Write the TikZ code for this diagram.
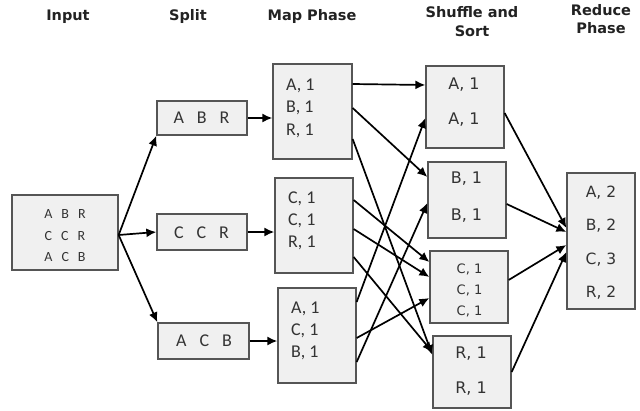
\documentclass[tikz,border=0pt]{standalone}
\usepackage{fontspec}
\newfontfamily\calfont{Carlito}
\newfontfamily\verfont{DejaVu Sans}
\usetikzlibrary{arrows.meta}
\definecolor{boxfill}{HTML}{F0F0F0}
\definecolor{boxline}{HTML}{555555}
\definecolor{txt}{HTML}{333333}
\definecolor{ttl}{HTML}{222222}
\begin{document}
\begin{tikzpicture}[x=1pt,y=-1pt,
  box/.style n args={2}{draw=boxline, fill=boxfill, line width=1.3pt, inner sep=0pt, minimum width=#1, minimum height=#2},
  arr/.style={-{Latex[length=10pt,width=9pt]}, line width=1.7pt, black},
  title/.style={font=\verfont\bfseries\fontsize{14.5}{18}\selectfont, text=ttl, anchor=base, inner sep=0pt},
  caltxt/.style={font=\calfont\fontsize{#1}{#1}\selectfont, text=txt, inner sep=0pt},
  vertxt/.style={font=\verfont\fontsize{#1}{#1}\selectfont, text=txt, inner sep=0pt, align=center}
]
\useasboundingbox (0,0) rectangle (640,410);
\fill[white] (0,0) rectangle (640,410);

% titles
\node[title] (tin) at (68,20) {Input};
\node[title] (tsp) at (188,20) {Split};
\node[title] (tmp) at (312,20) {Map Phase};
\node[title] (tsh1) at (472,17.5) {Shuffle and};
\node[title] (tsh2) at (472,36) {Sort};
\node[title] (tre1) at (601,15) {Reduce};
\node[title] (tre2) at (601,33) {Phase};

% boxes
\node[box={106}{75}] (in) at (65,232.5) {};
\node[box={90}{34}] (s1) at (202,118) {};
\node[box={90}{36}] (s2) at (202,232) {};
\node[box={91}{36}] (s3) at (203.5,341) {};
\node[box={79}{95}] (m1) at (312.5,111.5) {};
\node[box={78}{95}] (m2) at (314,225.5) {};
\node[box={78}{95}] (m3) at (317,335.5) {};
\node[box={78}{82}] (sa) at (465,107) {};
\node[box={78}{76}] (sb) at (467,200) {};
\node[box={78}{72}] (sc) at (469,287) {};
\node[box={78}{72}] (sr) at (472,372) {};
\node[box={68}{136}] (red) at (601,241) {};

% texts
\node[caltxt=14, align=center, font=\calfont\fontsize{14}{21.5}\selectfont] (intx) at (65,236) {A\hspace{9pt}B\hspace{9pt}R\\C\hspace{9pt}C\hspace{9pt}R\\A\hspace{9pt}C\hspace{9pt}B};
\node[caltxt=18] (s1t) at (201.5,118) {A\hspace{13pt}B\hspace{13pt}R};
\node[caltxt=18] (s2t) at (201.5,233) {C\hspace{13pt}C\hspace{13pt}R};
\node[caltxt=18] (s3t) at (204,341) {A\hspace{13pt}C\hspace{13pt}B};
\node[caltxt=18, align=left, anchor=west, font=\calfont\fontsize{18}{22.5}\selectfont] (m1t) at (286,108) {A, 1\\B, 1\\R, 1};
\node[caltxt=18, align=left, anchor=west, font=\calfont\fontsize{18}{22}\selectfont] (m2t) at (288,221) {C, 1\\C, 1\\R, 1};
\node[caltxt=18, align=left, anchor=west, font=\calfont\fontsize{18}{22}\selectfont] (m3t) at (291,331) {A, 1\\C, 1\\B, 1};
\node[vertxt=16, font=\verfont\fontsize{16}{35}\selectfont] (sat) at (464,102) {A, 1\\A, 1};
\node[vertxt=16, font=\verfont\fontsize{16}{37}\selectfont] (sbt) at (466.5,197.5) {B, 1\\B, 1};
\node[vertxt=13, font=\verfont\fontsize{13}{21}\selectfont] (sct) at (469.5,290) {C, 1\\C, 1\\C, 1};
\node[vertxt=16, font=\verfont\fontsize{16}{35}\selectfont] (srt) at (471,371.5) {R, 1\\R, 1};
\node[vertxt=15.5, font=\verfont\fontsize{15.5}{33.3}\selectfont] (redt) at (601,242.5) {A, 2\\B, 2\\C, 3\\R, 2};

% input -> split
\draw[arr] (in.east |- 0,235) -- (s1.south west);
\draw[arr] (in.east |- 0,235) -- (s2.west);
\draw[arr] (in.east |- 0,235) -- (s3.north west);
% split -> map
\draw[arr] (s1.east) -- (m1.west |- s1.east);
\draw[arr] (s2.east) -- (m2.west |- s2.east);
\draw[arr] (s3.east) -- (m3.west |- s3.east);
% map -> shuffle
\draw[arr] (m1.east |- 0,84) -- (sa.west |- 0,85);
\draw[arr] (m1.east |- 0,108) -- (sb.west |- 0,177);
\draw[arr] (m1.east |- 0,139) -- (sr.west |- 0,355);
\draw[arr] (m2.east |- 0,200) -- (sc.west |- 0,262);
\draw[arr] (m2.east |- 0,229) -- (sc.west |- 0,277);
\draw[arr] (m2.east |- 0,257) -- (sr.west |- 0,352);
\draw[arr] (m3.east |- 0,302) -- (sa.west |- 0,118);
\draw[arr] (m3.east |- 0,338) -- (sc.west |- 0,298);
\draw[arr] (m3.east |- 0,362) -- (sb.west |- 0,203);
% shuffle -> reduce
\draw[arr] (sa.east |- 0,113) -- (red.west |- 0,228);
\draw[arr] (sb.east |- 0,204) -- (red.west |- 0,232);
\draw[arr] (sc.east |- 0,280) -- (red.west |- 0,245);
\draw[arr] (sr.east |- 0,372) -- (red.west |- 0,252);
\end{tikzpicture}
\end{document}
